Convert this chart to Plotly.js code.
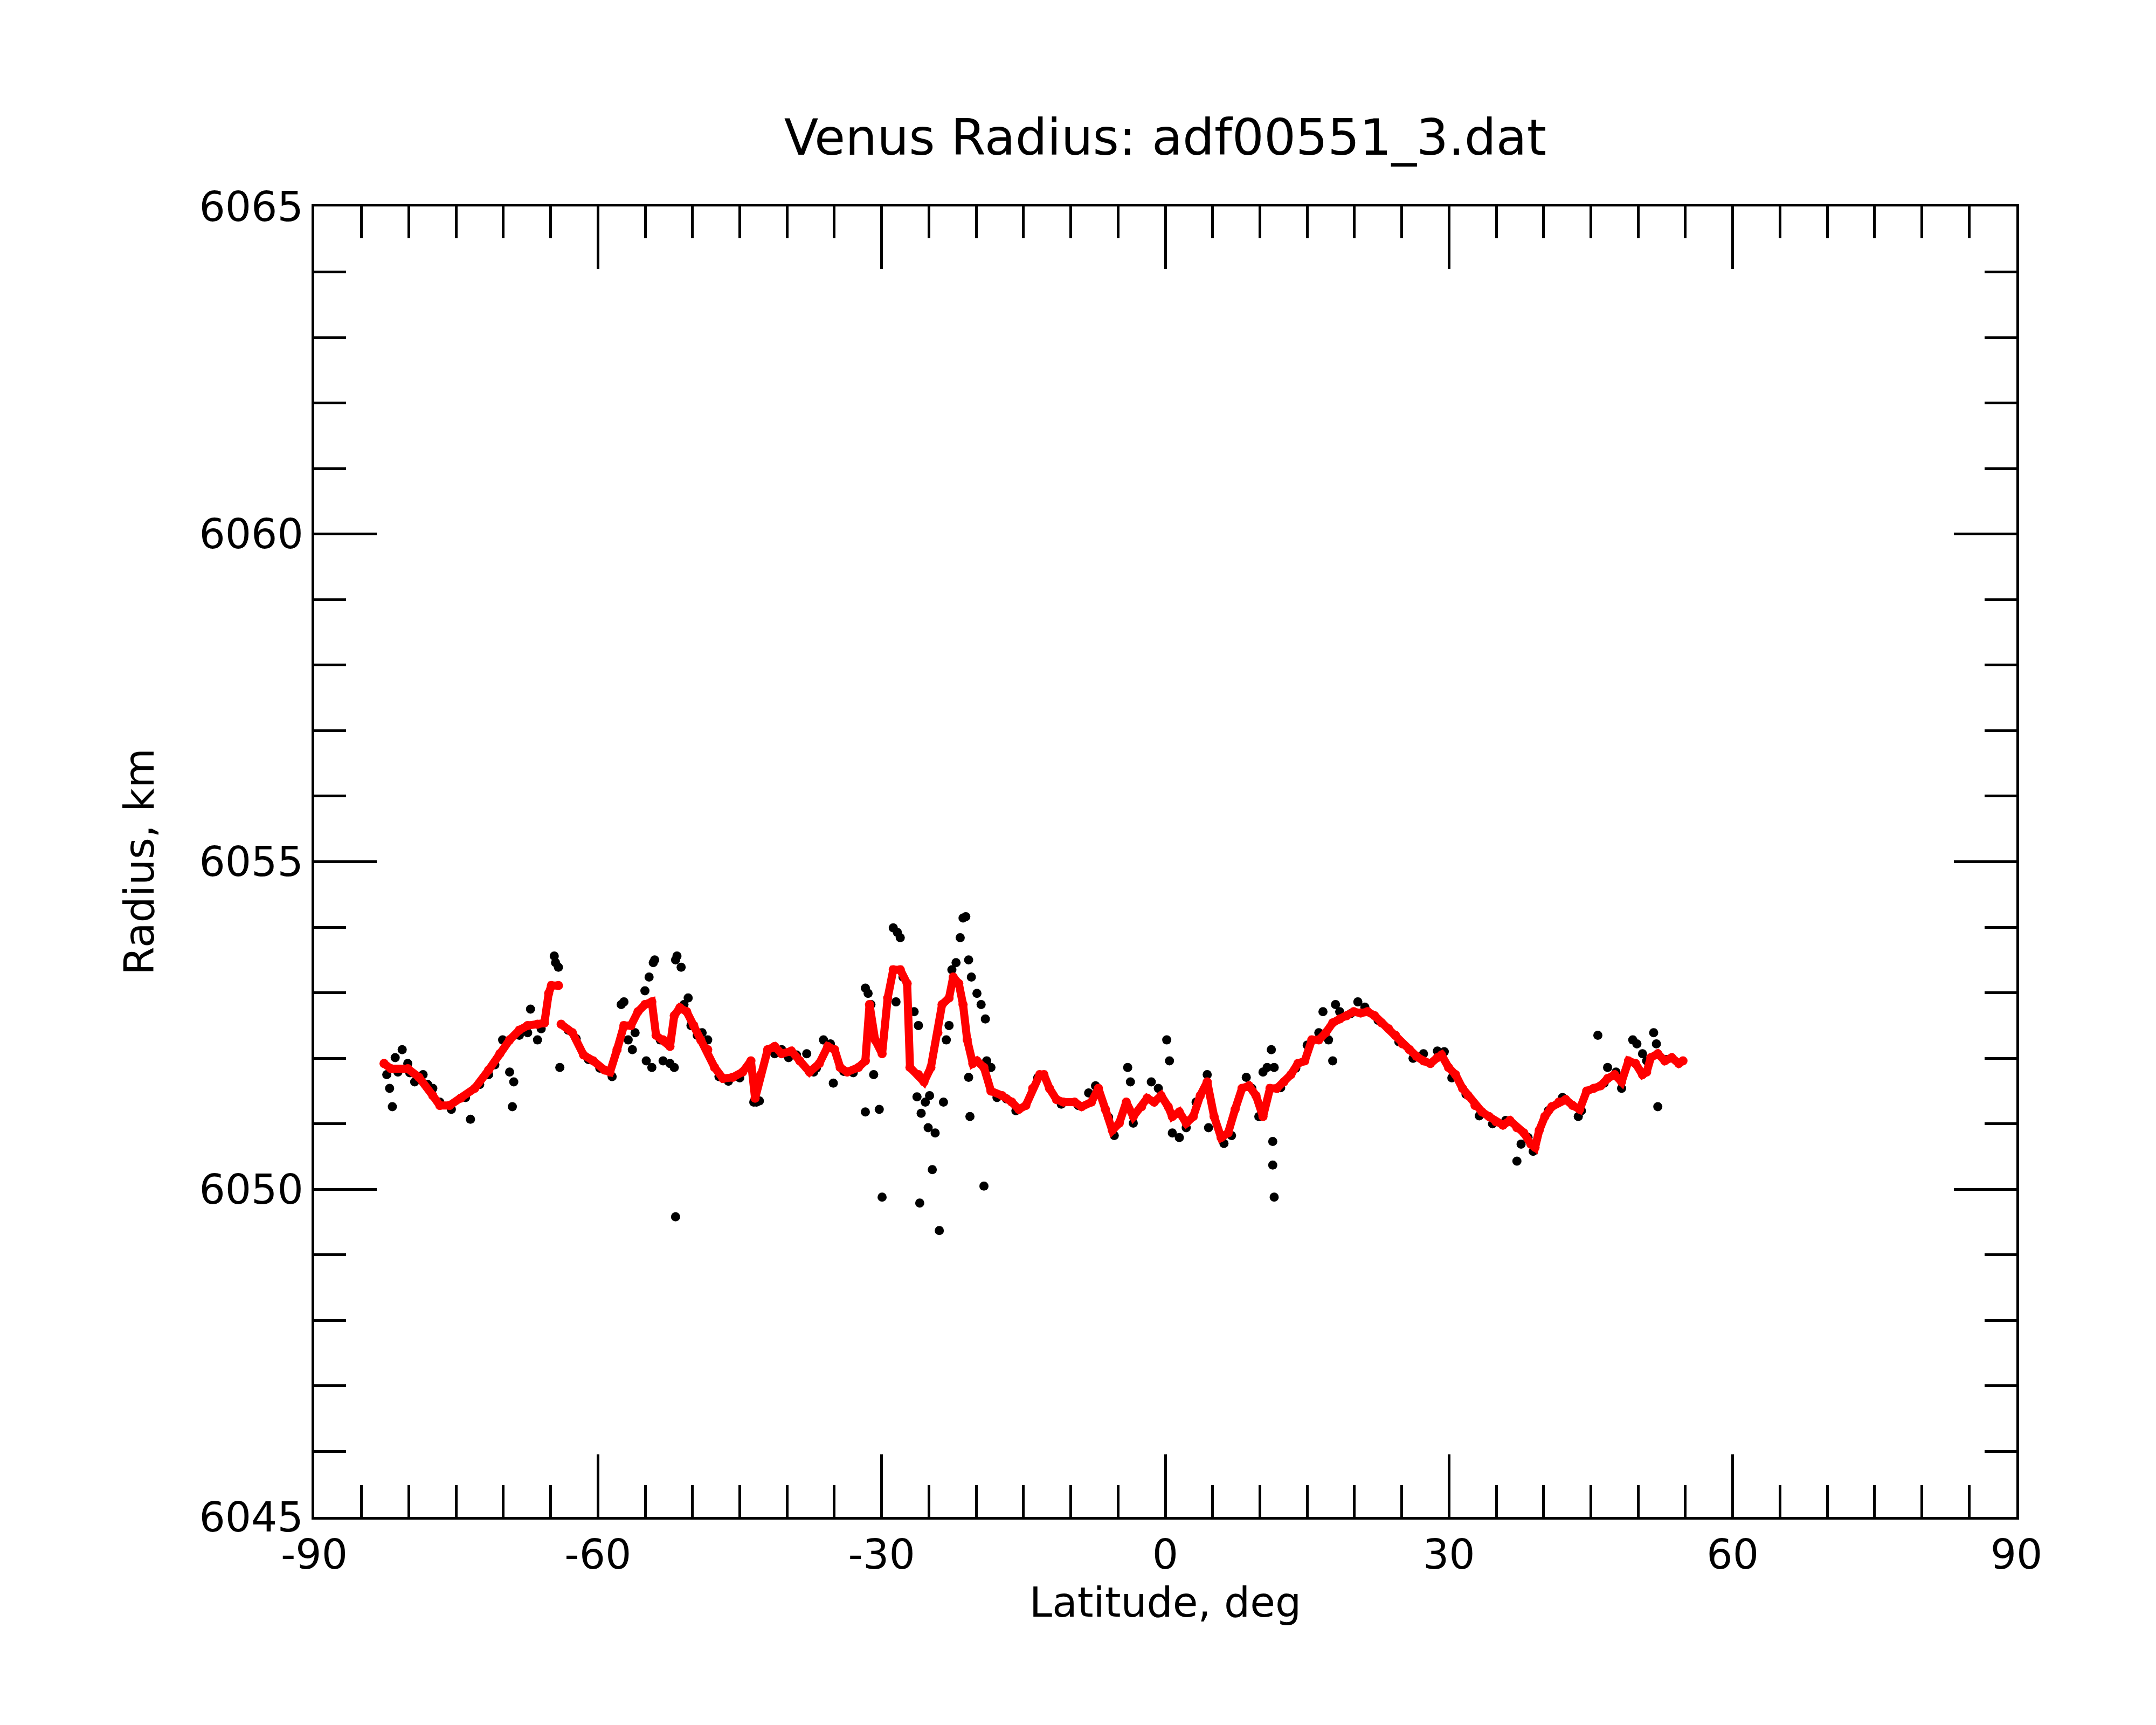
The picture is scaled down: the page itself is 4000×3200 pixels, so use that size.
<!DOCTYPE html>
<html>
<head>
<meta charset="utf-8">
<script src="https://cdn.plot.ly/plotly-3.0.1.min.js"></script>
<style>
  html, body { margin: 0; padding: 0; background: white; }
  #plot { width: 4000px; height: 3200px; }
</style>
</head>
<body>
<div id="plot"></div>
<script>
// Smoothed radius profile (red), null = break in the track
const smoothLat = [
    -82.62, -81.89, -80.11, -78.93, -77.46, -76.72, -75.69, -74.51, -73.03, -71.56,
    -70.38, -69.34, -68.31, -67.43, -66.39, -65.66, -65.21, -64.92, -64.18, -64.0,
    -63.89, -62.70, -61.52, -60.49, -59.31, -58.72, -57.98, -57.25, -56.51, -55.77,
    -55.03, -54.30, -53.85, -53.11, -52.38, -51.93, -51.34, -50.61, -49.87, -49.13,
    -48.39, -47.66, -46.77, -45.74, -44.70, -43.82, -43.38, -42.79, -42.05, -41.31,
    -40.57, -39.54, -38.66, -37.62, -36.59, -35.70, -34.97, -34.38, -33.64, -32.46,
    -31.72, -31.28, -30.69, -29.95, -29.36, -28.77, -28.03, -27.30, -27.00, -26.11,
    -25.52, -24.79, -24.05, -23.61, -22.87, -22.43, -21.84, -21.39, -20.95, -20.36,
    -19.92, -19.18, -18.44, -17.26, -16.23, -15.49, -14.75, -14.02, -13.28, -12.84,
    -12.25, -11.51, -10.77, -9.59, -8.85, -7.82, -7.08, -6.34, -5.61, -4.87,
    -4.13, -3.39, -2.51, -1.92, -1.18, -0.44, 0.30, 0.74, 1.48, 2.21,
    2.95, 3.69, 4.43, 5.16, 5.90, 6.64, 7.38, 8.11, 8.85, 9.59,
    10.33, 11.07, 11.80, 12.54, 13.28, 14.02, 14.75, 15.49, 16.23, 16.97,
    17.70, 18.44, 19.18, 19.92, 20.66, 21.39, 22.13, 22.87, 23.61, 24.34,
    25.08, 25.82, 26.56, 27.30, 28.03, 28.77, 29.21, 29.95, 30.69, 31.43,
    32.02, 32.75, 33.49, 34.23, 34.97, 35.70, 36.44, 37.18, 37.92, 38.66,
    39.10, 39.54, 40.13, 40.87, 41.61, 42.34, 43.08, 43.82, 44.56, 45.30,
    46.03, 46.77, 47.51, 48.25, 48.98, 49.72, 50.46, 50.90, 51.34, 52.08,
    52.82, 53.56, 54.30, 54.74
];
const smoothRadius = [
    6051.92, 6051.84, 6051.84, 6051.71, 6051.43, 6051.28, 6051.28, 6051.39, 6051.54, 6051.82,
    6052.07, 6052.28, 6052.43, 6052.50, 6052.52, 6052.54, 6052.99, 6053.11, 6053.11, null,
    6052.52, 6052.39, 6052.05, 6051.96, 6051.82, 6051.79, 6052.13, 6052.50, 6052.50, 6052.71,
    6052.82, 6052.86, 6052.35, 6052.28, 6052.18, 6052.65, 6052.77, 6052.71, 6052.50, 6052.28,
    6052.13, 6051.86, 6051.69, 6051.71, 6051.79, 6051.96, 6051.39, 6051.75, 6052.13, 6052.18,
    6052.07, 6052.11, 6051.96, 6051.79, 6051.92, 6052.18, 6052.13, 6051.86, 6051.79, 6051.86,
    6051.96, 6052.82, 6052.28, 6052.07, 6052.92, 6053.35, 6053.35, 6053.14, 6051.86, 6051.75,
    6051.64, 6051.86, 6052.39, 6052.82, 6052.92, 6053.24, 6053.14, 6052.82, 6052.28, 6051.92,
    6051.96, 6051.86, 6051.50, 6051.43, 6051.33, 6051.22, 6051.28, 6051.54, 6051.75, 6051.75,
    6051.54, 6051.37, 6051.33, 6051.33, 6051.26, 6051.33, 6051.54, 6051.22, 6050.90, 6051.01,
    6051.33, 6051.11, 6051.26, 6051.39, 6051.33, 6051.43, 6051.26, 6051.11, 6051.18, 6051.01,
    6051.11, 6051.43, 6051.64, 6051.11, 6050.79, 6050.86, 6051.22, 6051.54, 6051.58, 6051.43,
    6051.11, 6051.54, 6051.54, 6051.64, 6051.75, 6051.92, 6051.96, 6052.28, 6052.28, 6052.39,
    6052.54, 6052.60, 6052.65, 6052.71, 6052.69, 6052.71, 6052.65, 6052.54, 6052.45, 6052.35,
    6052.22, 6052.13, 6052.03, 6051.96, 6051.92, 6052.01, 6052.05, 6051.86, 6051.75, 6051.54,
    6051.43, 6051.28, 6051.18, 6051.11, 6051.03, 6050.98, 6051.05, 6050.94, 6050.86, 6050.69,
    6050.64, 6050.90, 6051.11, 6051.26, 6051.33, 6051.37, 6051.28, 6051.22, 6051.50, 6051.54,
    6051.58, 6051.69, 6051.75, 6051.64, 6051.96, 6051.92, 6051.75, 6051.79, 6052.01, 6052.07,
    6051.96, 6052.01, 6051.92, 6051.96
];

// Raw radius samples (black): scattered points first, then those hugging the profile
const rawLat = [
    -82.33, -82.03, -81.74, -81.44, -80.70, -81.15, -80.11, -79.38, -78.49, -77.46,
    -76.72, -73.48, -71.56, -70.08, -69.34, -69.05, -68.90, -68.31, -67.43, -67.13,
    -66.39, -64.62, -64.48, -64.18, -64.03, -63.15,
    -57.54, -57.25, -56.80, -56.36, -56.07, -55.03, -54.59, -54.15, -54.00, -54.89,
    -54.30, -53.41, -53.11, -51.79, -51.64, -51.20, -52.38, -51.93, -51.79, -50.90,
    -50.46, -50.16, -48.98, -48.39,
    -43.52, -43.23, -42.93, -41.31, -40.57, -39.84, -37.92, -37.18, -36.15, -35.41,
    -35.11, -31.72, -31.43, -31.13, -31.72, -30.84, -30.25, -29.95, -28.77, -28.33,
    -28.03, -28.48, -27.74,
    -26.56, -26.11, -26.26, -25.82, -25.38, -24.93, -25.08, -25.97, -24.64, -23.90,
    -24.34, -23.46, -23.16, -22.87, -22.57, -22.13, -21.69, -21.39, -21.10, -20.80,
    -20.51, -20.66, -20.80, -19.92, -19.48, -19.03, -19.18, -18.89, -18.44,
    -8.11, -7.38, -3.98, -3.69, -3.39, -1.48, -0.74, 0.15, 0.44, 0.74,
    1.48, 2.21, 3.25, 4.43, 4.57, 8.56, 9.15, 9.89, 10.33, 10.77,
    11.21, 11.51, 11.36, 11.36, 11.51, 11.80,
    16.23, 16.67, 17.26, 17.70, 18.00, 18.44, 20.36,
    27.30, 28.77, 37.18, 37.62, 38.36, 43.67, 45.74, 46.77, 47.66, 48.25,
    49.43, 49.87, 50.46, 50.90, 51.64, 51.93, 52.08,
    -79.9, -78.0, -75.5, -74.0, -72.5, -70.9, -66.0, -62.3, -61.0, -59.8,
    -58.5, -49.5, -47.2, -46.2, -45.0, -39.0, -36.9, -34.0, -33.0, -17.8,
    -16.8, -15.8, -13.5, -11.0, -9.2, -6.0, -5.4, 6.2, 7.0, 12.2,
    13.8, 15.0, 19.6, 21.1, 22.5, 24.7, 26.2, 29.5, 30.3, 31.8,
    33.2, 34.6, 36.0, 38.9, 40.5, 42.0, 44.0, 46.4, 53.0
];
const rawRadius = [
    6051.75, 6051.54, 6051.26, 6052.01, 6052.13, 6051.79, 6051.92, 6051.64, 6051.75, 6051.54,
    6051.33, 6051.07, 6051.75, 6052.28, 6051.79, 6051.26, 6051.64, 6052.35, 6052.39, 6052.75,
    6052.28, 6053.56, 6053.46, 6053.39, 6051.86, 6052.43,
    6052.82, 6052.86, 6052.28, 6052.13, 6052.39, 6053.03, 6053.24, 6053.46, 6053.50, 6051.96,
    6051.86, 6052.28, 6051.96, 6053.50, 6053.56, 6053.39, 6051.92, 6051.86, 6049.58, 6052.82,
    6052.92, 6052.50, 6052.39, 6052.28,
    6051.33, 6051.33, 6051.35, 6052.07, 6052.13, 6052.01, 6052.07, 6051.79, 6052.28, 6052.22,
    6051.62, 6053.07, 6052.99, 6052.82, 6051.18, 6051.75, 6051.22, 6049.88, 6053.99, 6053.92,
    6053.84, 6052.86, 6053.24,
    6052.71, 6052.50, 6051.41, 6051.16, 6051.33, 6051.43, 6050.94, 6049.79, 6050.30, 6049.37,
    6050.86, 6051.33, 6052.28, 6052.50, 6053.35, 6053.46, 6053.84, 6054.14, 6054.16, 6053.50,
    6053.24, 6051.11, 6051.71, 6052.99, 6052.82, 6052.60, 6050.05, 6051.96, 6051.86,
    6051.47, 6051.58, 6051.86, 6051.64, 6051.01, 6051.64, 6051.54, 6052.28, 6051.96, 6050.86,
    6050.79, 6050.94, 6051.33, 6051.75, 6050.94, 6051.71, 6051.54, 6051.11, 6051.79, 6051.86,
    6052.13, 6051.86, 6050.73, 6050.37, 6049.88, 6051.54,
    6052.39, 6052.71, 6052.28, 6051.96, 6052.82, 6052.71, 6052.86,
    6052.07, 6052.11, 6050.43, 6050.69, 6050.79, 6051.11, 6052.35, 6051.86, 6051.79, 6051.54,
    6052.28, 6052.22, 6052.07, 6051.96, 6052.39, 6052.22, 6051.26,
    6051.78, 6051.60, 6051.22, 6051.40, 6051.60, 6051.90, 6052.45, 6052.30, 6051.98, 6051.85,
    6051.72, 6052.35, 6051.72, 6051.65, 6051.70, 6052.05, 6051.85, 6051.80, 6051.78, 6051.40,
    6051.38, 6051.20, 6051.70, 6051.30, 6051.28, 6051.10, 6050.82, 6050.70, 6050.82, 6051.55,
    6051.85, 6052.20, 6052.68, 6052.78, 6052.58, 6052.25, 6052.00, 6052.10, 6051.70, 6051.45,
    6051.12, 6051.00, 6051.05, 6050.58, 6051.20, 6051.40, 6051.20, 6051.62, 6051.98
];

const xTicks = [-90, -60, -30, 0, 30, 60, 90];
const yTicks = [6045, 6050, 6055, 6060, 6065];

const FONT = 'DejaVu Sans, sans-serif';

const traces = [
    {
        x: rawLat,
        y: rawRadius,
        type: 'scatter',
        mode: 'markers',
        marker: { color: 'black', size: 17 },
        hoverinfo: 'skip'
    },
    {
        x: smoothLat,
        y: smoothRadius,
        type: 'scatter',
        mode: 'lines+markers',
        line: { color: '#ff0000', width: 15 },
        marker: { color: '#ff0000', size: 17 },
        connectgaps: false,
        hoverinfo: 'skip'
    }
];

const axisStyle = {
    showline: true,
    linecolor: 'black',
    linewidth: 5,
    mirror: 'allticks',
    ticks: 'inside',
    tickcolor: 'black',
    tickwidth: 5,
    ticklen: 116,
    showgrid: false,
    zeroline: false,
    tickfont: { family: FONT, size: 76, color: 'black' }
};

const layout = {
    width: 4000,
    height: 3200,
    margin: { l: 583, r: 259, t: 383, b: 386 },
    paper_bgcolor: 'white',
    plot_bgcolor: 'white',
    showlegend: false,
    title: {
        text: 'Venus Radius: adf00551_3.dat',
        font: { family: FONT, size: 93, color: 'black' },
        x: 0.5,
        xref: 'paper',
        xanchor: 'center',
        y: 1 - 254 / 3200,
        yanchor: 'middle'
    },
    xaxis: Object.assign({}, axisStyle, {
        range: [-90, 90],
        tickvals: xTicks,
        ticktext: xTicks.map(String),
        minor: { dtick: 5, ticks: 'inside', ticklen: 59, tickwidth: 5, tickcolor: 'black' },
        title: { text: 'Latitude, deg', font: { family: FONT, size: 76, color: 'black' }, standoff: 20 }
    }),
    yaxis: Object.assign({}, axisStyle, {
        range: [6045, 6065],
        tickvals: yTicks,
        ticktext: yTicks.map(String),
        minor: { dtick: 1, ticks: 'inside', ticklen: 59, tickwidth: 5, tickcolor: 'black' },
        title: { text: 'Radius, km', font: { family: FONT, size: 76, color: 'black' }, standoff: 60 }
    })
};

Plotly.newPlot('plot', traces, layout, { displayModeBar: false, staticPlot: true });
</script>
</body>
</html>
